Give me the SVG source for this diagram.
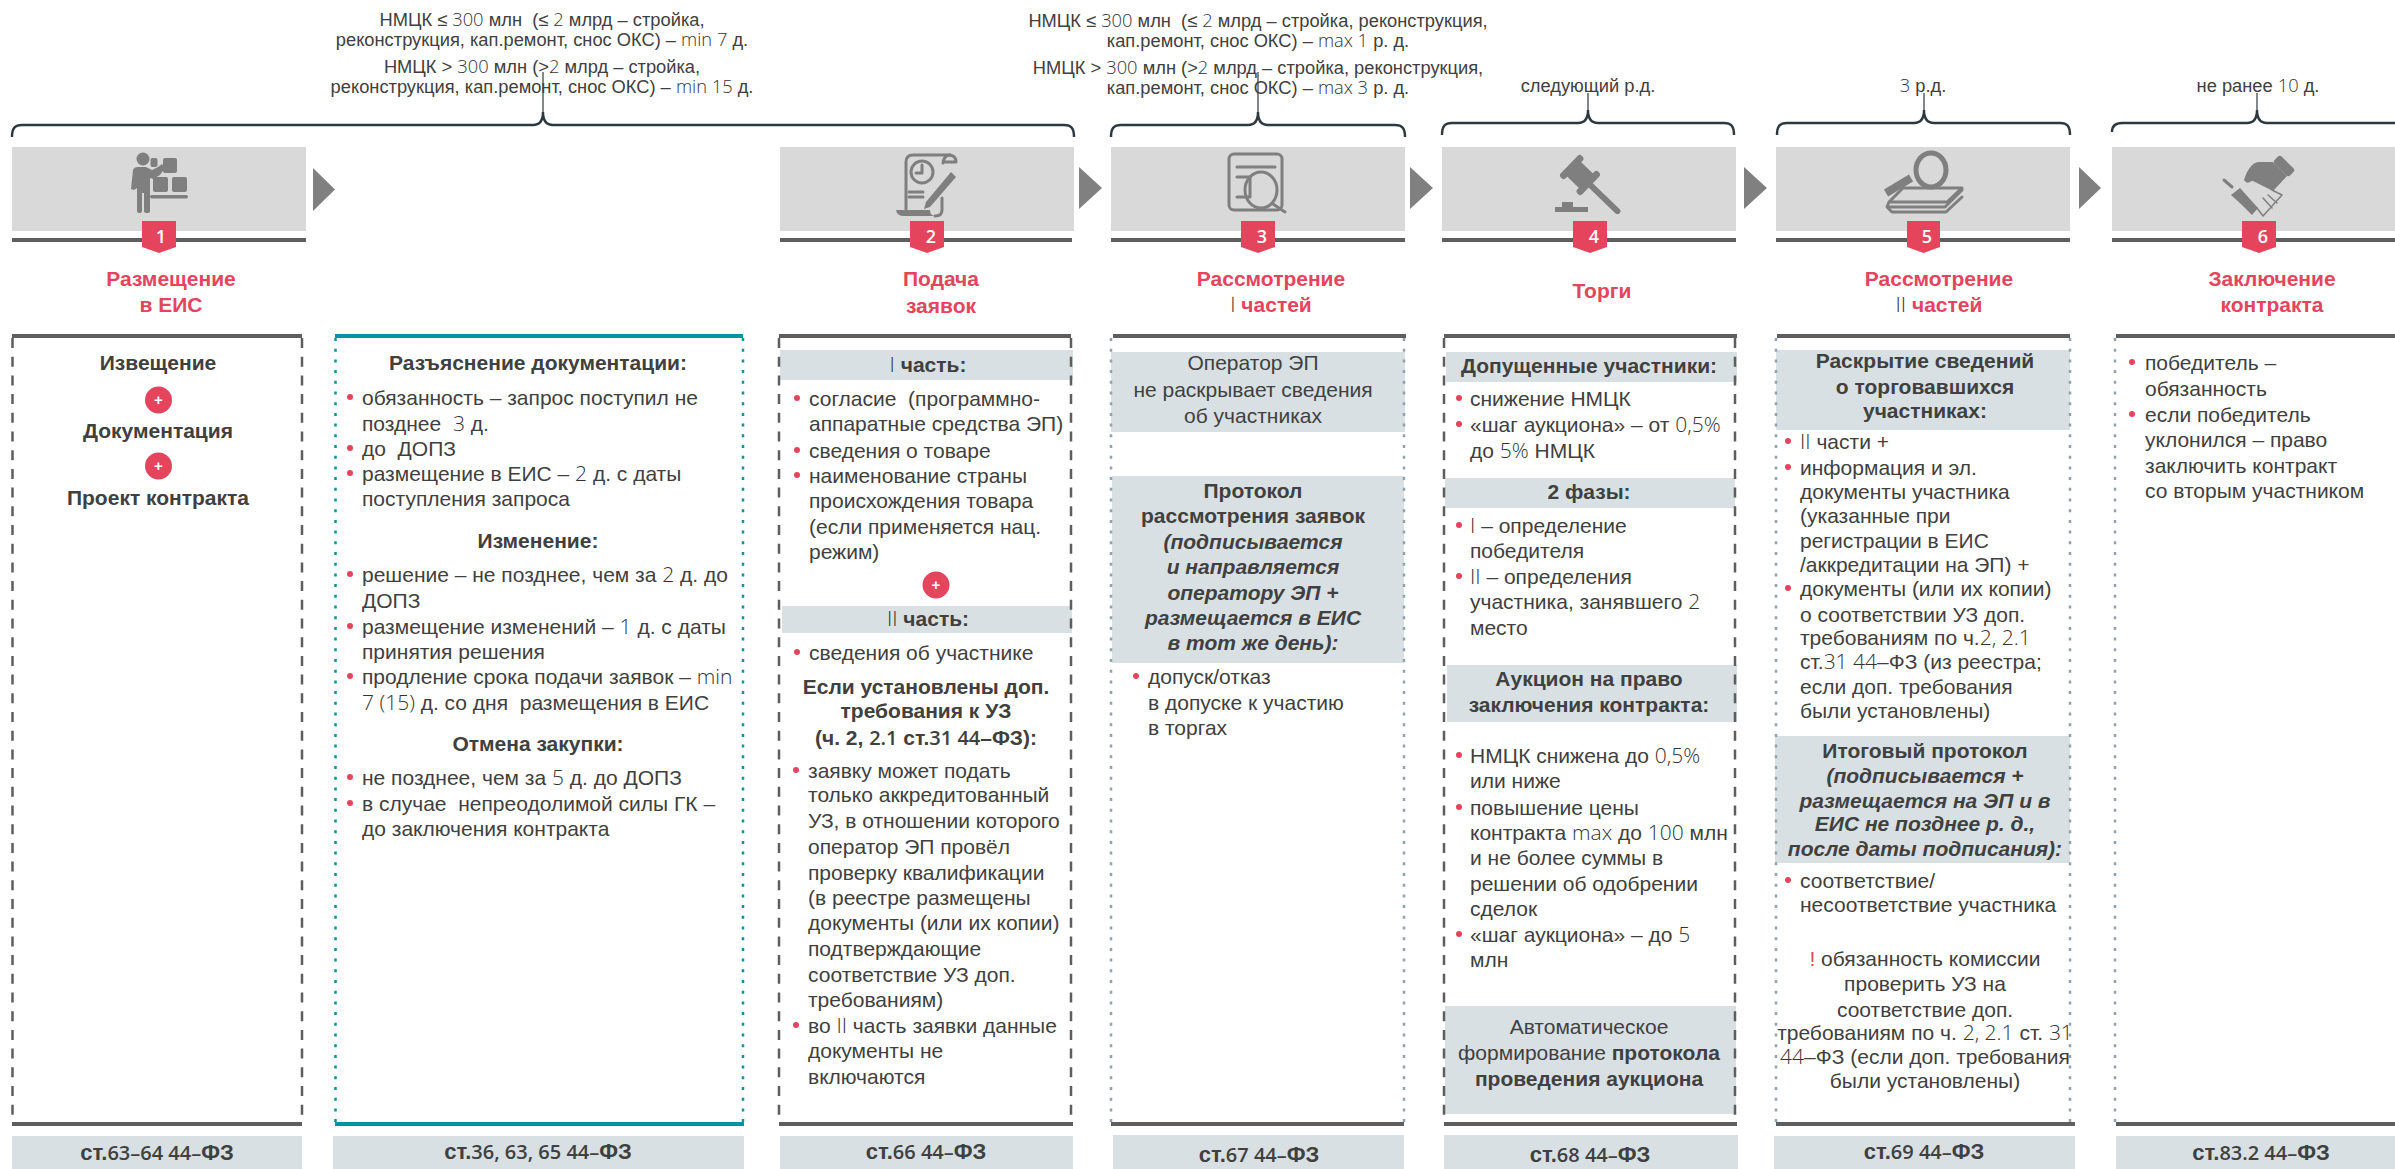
<svg xmlns="http://www.w3.org/2000/svg" width="2395" height="1169" viewBox="0 0 2395 1169">
<style>
text{font-family:"Liberation Sans",Arial,sans-serif;font-size:21px;fill:#404040;white-space:pre}
.c{text-anchor:middle}
.b{font-weight:700}
.bi{font-weight:700;font-style:italic}
.top{font-size:18.300px;text-anchor:middle}
.d{font-family:"Open Sans","Liberation Sans",sans-serif;font-weight:300;fill:#333}
.f{font-weight:700;font-size:22px;text-anchor:middle}
.m{font-family:"Open Sans","Liberation Sans",sans-serif;font-weight:600;font-size:20px}
.ttl{font-weight:700;fill:#e5455c;text-anchor:middle}
.num{font-family:"Open Sans","Liberation Sans",sans-serif;font-weight:600;font-size:18px;fill:#fff;text-anchor:middle}
.pl{font-weight:700;font-size:15px;fill:#fff;text-anchor:middle}
.r{fill:#e5455c}
.hd{fill:#d9d9d9}
.band{fill:#d8e0e3}
.rule{fill:#5e5e5e}
.rt{fill:#0095a1}
.badge{fill:#e5455c}
.bul{fill:#e5455c}
.plus{fill:#e5455c}
.arr{fill:#808080}
.br{fill:none;stroke:#2d393f;stroke-width:2.400}
.brt{fill:none;stroke:#2d393f;stroke-width:1.200}
.dash{stroke:#5e5e5e;stroke-width:2.500;stroke-dasharray:10 8.700;fill:none}
.dot{stroke:#8ea3b2;stroke-width:2.500;stroke-dasharray:3 7.700;fill:none}
.dott{stroke:#0095a1;stroke-width:2.500;stroke-dasharray:3 7.700;fill:none}
.ic{fill:#7f7f7f}
.is{fill:none;stroke:#7f7f7f;stroke-width:3;stroke-linecap:round;stroke-linejoin:round}
.it{fill:none;stroke:#7f7f7f;stroke-width:1.500;stroke-linecap:round;stroke-linejoin:round}
</style>

<g id="connectors">
<path class="br" d="M12 137C12 128 15 125 22 125H533C539 125 543 122 543 112C543 122 547 125 553 125H1064C1071 125 1074 128 1074 137"/>
<path class="brt" d="M543 112V72"/>
<path class="br" d="M1111 137C1111 128 1114 125 1121 125H1248C1254 125 1258 122 1258 112C1258 122 1262 125 1268 125H1395C1402 125 1405 128 1405 137"/>
<path class="brt" d="M1258 112V72"/>
<path class="br" d="M1442 135C1442 126 1445 123 1452 123H1578C1584 123 1588 120 1588 110C1588 120 1592 123 1598 123H1724C1731 123 1734 126 1734 135"/>
<path class="brt" d="M1588 110V93"/>
<path class="br" d="M1777 135C1777 126 1780 123 1787 123H1914C1920 123 1924 120 1924 110C1924 120 1928 123 1934 123H2060C2067 123 2070 126 2070 135"/>
<path class="brt" d="M1924 110V93"/>
<path class="br" d="M2112 132C2112 126 2115 123 2122 123H2247C2253 123 2257 120 2257 110C2257 120 2261 123 2267 123H2400"/>
<path class="brt" d="M2257 110V93"/>
<polygon class="arr" points="313,168 335,189.500 313,211"/>
<polygon class="arr" points="1079,167 1102,188 1079,209"/>
<polygon class="arr" points="1410,167 1433,188 1410,209"/>
<polygon class="arr" points="1744,167 1767,188 1744,209"/>
<polygon class="arr" points="2079,167 2101,188 2079,209"/>
</g>

<g id="labels-top">
<text class="top" x="542" y="26">НМЦК ≤ <tspan class="d">300</tspan> млн  (≤ <tspan class="d">2</tspan> млрд – стройка,</text>
<text class="top" x="542" y="46">реконструкция, кап.ремонт, снос ОКС) – <tspan class="d">min 7</tspan> д.</text>
<text class="top" x="542" y="73">НМЦК &gt; <tspan class="d">300</tspan> млн (&gt;<tspan class="d">2</tspan> млрд – стройка,</text>
<text class="top" x="542" y="93">реконструкция, кап.ремонт, снос ОКС) – <tspan class="d">min 15</tspan> д.</text>
<text class="top" x="1258" y="27">НМЦК ≤ <tspan class="d">300</tspan> млн  (≤ <tspan class="d">2</tspan> млрд – стройка, реконструкция,</text>
<text class="top" x="1258" y="47">кап.ремонт, снос ОКС) – <tspan class="d">max 1</tspan> р. д.</text>
<text class="top" x="1258" y="74">НМЦК &gt; <tspan class="d">300</tspan> млн (&gt;<tspan class="d">2</tspan> млрд – стройка, реконструкция,</text>
<text class="top" x="1258" y="94">кап.ремонт, снос ОКС) – <tspan class="d">max 3</tspan> р. д.</text>
<text class="top" x="1588" y="92">следующий р.д.</text>
<text class="top" x="1923" y="92"><tspan class="d">3</tspan> р.д.</text>
<text class="top" x="2258" y="92">не ранее <tspan class="d">10</tspan> д.</text>
</g>

<g id="step-1">
<rect class="hd" x="12" y="147" width="294" height="84"/>
<rect class="rule" x="12" y="238" width="294" height="4"/>
<circle class="ic" cx="143" cy="159" r="6.500"/>
<rect class="ic" x="150.500" y="158" width="7" height="9" rx="2"/>
<rect class="ic" x="163" y="158" width="14" height="15" rx="2"/>
<rect class="ic" x="153" y="177" width="15" height="15" rx="2"/>
<rect class="ic" x="172" y="177" width="15" height="15" rx="2"/>
<rect class="ic" x="150" y="195" width="38" height="3.500" rx="1.700"/>
<path class="ic" d="M133 170Q134 167 138 167H146L152 170L158 167L162 164L165 168L160 175L153 179L150 178V211Q150 213 147 213H146Q144 213 144 211V193H142V211Q142 213 139 213Q137 213 137 211V188L134 190L131 189Z"/>
<polygon class="badge" points="142,221 176,221 176,247 159,253 142,247"/>
<text class="num" x="161" y="243">1</text>
<text class="ttl" x="171" y="286">Размещение</text>
<text class="ttl" x="171" y="312">в ЕИС</text>
<rect class="rule" x="12" y="334" width="290" height="4"/>
<path class="dash" d="M12.500 338V1122M302 338V1122"/>
<rect class="rule" x="12" y="1122" width="290" height="4"/>
<text class="b c" x="158" y="370">Извещение</text>
<circle class="plus" cx="158.500" cy="400" r="13.500"/>
<text class="pl" x="158.500" y="405">+</text>
<text class="b c" x="158" y="438">Документация</text>
<circle class="plus" cx="158.500" cy="466" r="13.500"/>
<text class="pl" x="158.500" y="471">+</text>
<text class="b c" x="158" y="505">Проект контракта</text>
<rect class="band" x="12" y="1136" width="290" height="33"/>
<text class="f" x="157" y="1160">ст.<tspan class="m">63–64 44–</tspan>ФЗ</text>
</g>

<g id="step-1-note">
<rect class="rt" x="335" y="334" width="408" height="4"/>
<path class="dott" d="M335.500 338V1122M743 338V1122"/>
<rect class="rt" x="335" y="1122" width="409" height="4"/>
<text class="b c" x="538" y="370">Разъяснение документации:</text>
<circle class="bul" cx="350" cy="397" r="3"/><text x="362" y="405">обязанность – запрос поступил не</text>
<text x="362" y="431">позднее  <tspan class="d">3</tspan> д.</text>
<circle class="bul" cx="350" cy="448" r="3"/><text x="362" y="456">до  ДОПЗ</text>
<circle class="bul" cx="350" cy="473" r="3"/><text x="362" y="481">размещение в ЕИС – <tspan class="d">2</tspan> д. с даты</text>
<text x="362" y="506">поступления запроса</text>
<text class="b c" x="538" y="548">Изменение:</text>
<circle class="bul" cx="350" cy="574" r="3"/><text x="362" y="582">решение – не позднее, чем за <tspan class="d">2</tspan> д. до</text>
<text x="362" y="608">ДОПЗ</text>
<circle class="bul" cx="350" cy="626" r="3"/><text x="362" y="634">размещение изменений – <tspan class="d">1</tspan> д. с даты</text>
<text x="362" y="659">принятия решения</text>
<circle class="bul" cx="350" cy="676" r="3"/><text x="362" y="684">продление срока подачи заявок – <tspan class="d">min</tspan></text>
<text x="362" y="710"><tspan class="d">7 (15)</tspan> д. со дня  размещения в ЕИС</text>
<text class="b c" x="538" y="751">Отмена закупки:</text>
<circle class="bul" cx="350" cy="777" r="3"/><text x="362" y="785">не позднее, чем за <tspan class="d">5</tspan> д. до ДОПЗ</text>
<circle class="bul" cx="350" cy="803" r="3"/><text x="362" y="811">в случае  непреодолимой силы ГК –</text>
<text x="362" y="836">до заключения контракта</text>
<rect class="band" x="333" y="1136" width="411" height="33"/>
<text class="f" x="538" y="1159">ст.<tspan class="m">36, 63, 65 44–</tspan>ФЗ</text>
</g>

<g id="step-2">
<rect class="hd" x="780" y="147" width="294" height="84"/>
<rect class="rule" x="780" y="238" width="292" height="4"/>
<path class="is" d="M906 209V162Q906 155 913 155H950"/>
<path class="is" d="M950 155Q944 155 943 163M950 155Q956 156 956 162H944"/>
<circle class="is" cx="922" cy="172" r="11"/>
<path class="is" d="M922 165V173H916M909 192H923M909 197H923"/>
<path class="ic" d="M951 172L956 177L930 207L924 209L926 202Z"/>
<path class="is" d="M942 198V210Q942 216 935 216"/>
<path class="ic" d="M896 210H930Q930 216 936 216H904Q897 216 896 210Z"/>
<polygon class="badge" points="910,221 944,221 944,247 927,253 910,247"/>
<text class="num" x="931" y="243">2</text>
<text class="ttl" x="941" y="286">Подача</text>
<text class="ttl" x="941" y="313">заявок</text>
<rect class="band" x="780" y="350" width="293" height="30"/>
<rect class="band" x="782" y="606" width="290" height="27"/>
<rect class="rule" x="779" y="334" width="292" height="4"/>
<path class="dash" d="M779 338V1122M1071 338V1122"/>
<rect class="rule" x="779" y="1122" width="294" height="4"/>
<text class="c" x="928" y="372"><tspan class="d">I</tspan> <tspan class="b">часть:</tspan></text>
<circle class="bul" cx="797" cy="398" r="3"/><text x="809" y="406">согласие  (программно-</text>
<text x="809" y="431">аппаратные средства ЭП)</text>
<circle class="bul" cx="797" cy="450" r="3"/><text x="809" y="458">сведения о товаре</text>
<circle class="bul" cx="797" cy="475" r="3"/><text x="809" y="483">наименование страны</text>
<text x="809" y="508">происхождения товара</text>
<text x="809" y="534">(если применяется нац.</text>
<text x="809" y="559">режим)</text>
<circle class="plus" cx="936" cy="585" r="13.500"/>
<text class="pl" x="936" y="590">+</text>
<text class="c" x="928" y="626"><tspan class="d">II</tspan> <tspan class="b">часть:</tspan></text>
<circle class="bul" cx="797" cy="652" r="3"/><text x="809" y="660">сведения об участнике</text>
<text class="b c" x="926" y="694">Если установлены доп.</text>
<text class="b c" x="926" y="718">требования к УЗ</text>
<text class="b c" x="926" y="745">(ч. 2, <tspan class="m">2.1</tspan> ст.<tspan class="m">31 44</tspan>–ФЗ):</text>
<circle class="bul" cx="796" cy="770" r="3"/><text x="808" y="778">заявку может подать</text>
<text x="808" y="802">только аккредитованный</text>
<text x="808" y="828">УЗ, в отношении которого</text>
<text x="808" y="854">оператор ЭП провёл</text>
<text x="808" y="880">проверку квалификации</text>
<text x="808" y="905">(в реестре размещены</text>
<text x="808" y="930">документы (или их копии)</text>
<text x="808" y="956">подтверждающие</text>
<text x="808" y="982">соответствие УЗ доп.</text>
<text x="808" y="1007">требованиям)</text>
<circle class="bul" cx="796" cy="1025" r="3"/><text x="808" y="1033">во <tspan class="d">II</tspan> часть заявки данные</text>
<text x="808" y="1058">документы не</text>
<text x="808" y="1084">включаются</text>
<rect class="band" x="780" y="1136" width="293" height="33"/>
<text class="f" x="926" y="1159">ст.<tspan class="m">66 44–</tspan>ФЗ</text>
</g>

<g id="step-3">
<rect class="hd" x="1111" y="147" width="294" height="84"/>
<rect class="rule" x="1111" y="238" width="294" height="4"/>
<rect class="is" x="1229" y="154" width="53" height="56" rx="5"/>
<path class="is" d="M1237 167H1275M1237 177H1250V197H1237"/>
<ellipse class="is" cx="1261" cy="190" rx="16" ry="18"/>
<path class="is" d="M1273 204L1285 212"/>
<polygon class="badge" points="1241,221 1275,221 1275,247 1258,253 1241,247"/>
<text class="num" x="1262" y="243">3</text>
<text class="ttl" x="1271" y="286">Рассмотрение</text>
<text class="ttl" x="1271" y="312"><tspan class="d">I</tspan> частей</text>
<rect class="band" x="1111" y="352" width="294" height="80"/>
<rect class="band" x="1112" y="476" width="292" height="187"/>
<rect class="rule" x="1113" y="334" width="293" height="4"/>
<path class="dot" d="M1111 338V1122M1404 338V1122"/>
<rect class="rule" x="1111" y="1122" width="293" height="4"/>
<text class="c" x="1253" y="370">Оператор ЭП</text>
<text class="c" x="1253" y="397">не раскрывает сведения</text>
<text class="c" x="1253" y="423">об участниках</text>
<text class="b c" x="1253" y="498">Протокол</text>
<text class="b c" x="1253" y="523">рассмотрения заявок</text>
<text class="bi c" x="1253" y="549">(подписывается</text>
<text class="bi c" x="1253" y="574">и направляется</text>
<text class="bi c" x="1253" y="600">оператору ЭП +</text>
<text class="bi c" x="1253" y="625">размещается в ЕИС</text>
<text class="bi c" x="1253" y="650">в тот же день):</text>
<circle class="bul" cx="1136" cy="676" r="3"/><text x="1148" y="684">допуск/отказ</text>
<text x="1148" y="710">в допуске к участию</text>
<text x="1148" y="735">в торгах</text>
<rect class="band" x="1113" y="1135" width="291" height="34"/>
<text class="f" x="1259" y="1162">ст.<tspan class="m">67 44–</tspan>ФЗ</text>
</g>

<g id="step-4">
<rect class="hd" x="1442" y="147" width="294" height="84"/>
<rect class="rule" x="1442" y="238" width="294" height="4"/>
<path class="ic" d="M1555 207H1562V202H1573V207H1588V212H1555Z"/>
<g transform="rotate(44 1580 175)"><rect class="ic" x="1571" y="165" width="18" height="20"/><rect class="ic" x="1588" y="160" width="7" height="30" rx="3"/><rect class="ic" x="1565" y="160" width="7" height="30" rx="3"/><rect class="ic" x="1589" y="172" width="46" height="6" rx="3"/></g>
<polygon class="badge" points="1573,221 1607,221 1607,247 1590,253 1573,247"/>
<text class="num" x="1594" y="243">4</text>
<text class="ttl" x="1602" y="298">Торги</text>
<rect class="band" x="1446" y="352" width="291" height="30"/>
<rect class="band" x="1445" y="478" width="290" height="30"/>
<rect class="band" x="1447" y="665" width="290" height="57"/>
<rect class="band" x="1445" y="1006" width="291" height="108"/>
<rect class="rule" x="1444" y="334" width="293" height="4"/>
<path class="dash" d="M1444 338V1122M1735 338V1122"/>
<rect class="rule" x="1444" y="1122" width="293" height="4"/>
<text class="b c" x="1589" y="373">Допущенные участники:</text>
<circle class="bul" cx="1459" cy="398" r="3"/><text x="1470" y="406">снижение НМЦК</text>
<circle class="bul" cx="1459" cy="424" r="3"/><text x="1470" y="432">«шаг аукциона» – от <tspan class="d">0,5%</tspan></text>
<text x="1470" y="458">до <tspan class="d">5%</tspan> НМЦК</text>
<text class="b c" x="1589" y="499">2 фазы:</text>
<circle class="bul" cx="1459" cy="525" r="3"/><text x="1470" y="533"><tspan class="d">I</tspan> – определение</text>
<text x="1470" y="558">победителя</text>
<circle class="bul" cx="1459" cy="576" r="3"/><text x="1470" y="584"><tspan class="d">II</tspan> – определения</text>
<text x="1470" y="609">участника, занявшего <tspan class="d">2</tspan></text>
<text x="1470" y="635">место</text>
<text class="b c" x="1589" y="686">Аукцион на право</text>
<text class="b c" x="1589" y="712">заключения контракта:</text>
<circle class="bul" cx="1459" cy="755" r="3"/><text x="1470" y="763">НМЦК снижена до <tspan class="d">0,5%</tspan></text>
<text x="1470" y="788">или ниже</text>
<circle class="bul" cx="1459" cy="807" r="3"/><text x="1470" y="815">повышение цены</text>
<text x="1470" y="840">контракта <tspan class="d">max</tspan> до <tspan class="d">100</tspan> млн</text>
<text x="1470" y="865">и не более суммы в</text>
<text x="1470" y="891">решении об одобрении</text>
<text x="1470" y="916">сделок</text>
<circle class="bul" cx="1459" cy="934" r="3"/><text x="1470" y="942">«шаг аукциона» – до <tspan class="d">5</tspan></text>
<text x="1470" y="967">млн</text>
<text class="c" x="1589" y="1034">Автоматическое</text>
<text class="c" x="1589" y="1060">формирование <tspan class="b">протокола</tspan></text>
<text class="b c" x="1589" y="1086">проведения аукциона</text>
<rect class="band" x="1444" y="1135" width="294" height="34"/>
<text class="f" x="1590" y="1162">ст.<tspan class="m">68 44–</tspan>ФЗ</text>
</g>

<g id="step-5">
<rect class="hd" x="1776" y="147" width="294" height="84"/>
<rect class="rule" x="1776" y="238" width="294" height="4"/>
<ellipse cx="1931" cy="170" rx="15" ry="17" fill="none" stroke="#7f7f7f" stroke-width="5"/>
<path d="M1886 193L1911 178" stroke="#7f7f7f" stroke-width="8" fill="none"/>
<path class="is" d="M1903 188H1962L1947 202H1889ZM1889 202L1887 207L1892 212H1946L1962 197"/>
<path class="is" d="M1889 207H1945L1962 190"/>
<polygon class="badge" points="1907,221 1940,221 1940,247 1923.500,253 1907,247"/>
<text class="num" x="1927" y="243">5</text>
<text class="ttl" x="1939" y="286">Рассмотрение</text>
<text class="ttl" x="1939" y="312"><tspan class="d">II</tspan> частей</text>
<rect class="band" x="1776" y="350" width="294" height="80"/>
<rect class="band" x="1775" y="736" width="295" height="127"/>
<rect class="rule" x="1777" y="334" width="293" height="4"/>
<path class="dot" d="M1776 338V1122M2070 338V1122"/>
<rect class="rule" x="1776" y="1122" width="299" height="4"/>
<text class="b c" x="1925" y="368">Раскрытие сведений</text>
<text class="b c" x="1925" y="394">о торговавшихся</text>
<text class="b c" x="1925" y="418">участниках:</text>
<circle class="bul" cx="1788" cy="441" r="3"/><text x="1800" y="449"><tspan class="d">II</tspan> части +</text>
<circle class="bul" cx="1788" cy="467" r="3"/><text x="1800" y="475">информация и эл.</text>
<text x="1800" y="499">документы участника</text>
<text x="1800" y="523">(указанные при</text>
<text x="1800" y="548">регистрации в ЕИС</text>
<text x="1800" y="572">/аккредитации на ЭП) +</text>
<circle class="bul" cx="1788" cy="588" r="3"/><text x="1800" y="596">документы (или их копии)</text>
<text x="1800" y="622">о соответствии УЗ доп.</text>
<text x="1800" y="645">требованиям по ч.<tspan class="d">2, 2.1</tspan></text>
<text x="1800" y="669">ст.<tspan class="d">31 44</tspan>–ФЗ (из реестра;</text>
<text x="1800" y="694">если доп. требования</text>
<text x="1800" y="718">были установлены)</text>
<text class="b c" x="1925" y="758">Итоговый протокол</text>
<text class="bi c" x="1925" y="783">(подписывается +</text>
<text class="bi c" x="1925" y="808">размещается на ЭП и в</text>
<text class="bi c" x="1925" y="831">ЕИС не позднее р. д.,</text>
<text class="bi c" x="1925" y="856">после даты подписания):</text>
<circle class="bul" cx="1788" cy="880" r="3"/><text x="1800" y="888">соответствие/</text>
<text x="1800" y="912">несоответствие участника</text>
<text class="c" x="1925" y="966"><tspan class="r">!</tspan> обязанность комиссии</text>
<text class="c" x="1925" y="991">проверить УЗ на</text>
<text class="c" x="1925" y="1017">соответствие доп.</text>
<text class="c" x="1925" y="1040">требованиям по ч. <tspan class="d">2, 2.1</tspan> ст. <tspan class="d">31</tspan></text>
<text class="c" x="1925" y="1064"><tspan class="d">44</tspan>–ФЗ (если доп. требования</text>
<text class="c" x="1925" y="1088">были установлены)</text>
<rect class="band" x="1774" y="1136" width="301" height="33"/>
<text class="f" x="1924" y="1159">ст.<tspan class="m">69 44–</tspan>ФЗ</text>
</g>

<g id="step-6">
<rect class="hd" x="2112" y="147" width="283" height="84"/>
<rect class="rule" x="2112" y="238" width="283" height="4"/>
<g transform="rotate(45 2284 166)"><rect class="ic" x="2273" y="161" width="22" height="10" rx="3"/></g>
<path class="ic" d="M2244 180C2247 170 2252 163 2258 162L2273 162L2287 176L2273 191L2253 181C2250 180 2248 186 2244 180Z"/>
<path class="ic" d="M2231 195L2240 188L2258 208L2252 215L2242 205Z"/>
<path class="is" d="M2224 180L2232 187"/>
<path class="it" d="M2257 208L2263 216L2282 195L2272 190M2263 198L2272 208M2268 195L2277 203"/>
<polygon class="badge" points="2242,221 2276,221 2276,247 2259,253 2242,247"/>
<text class="num" x="2263" y="243">6</text>
<text class="ttl" x="2272" y="286">Заключение</text>
<text class="ttl" x="2272" y="312">контракта</text>
<rect class="rule" x="2116" y="334" width="279" height="4"/>
<path class="dot" d="M2115 338V1122"/>
<rect class="rule" x="2116" y="1122" width="279" height="4"/>
<circle class="bul" cx="2132" cy="362" r="3"/><text x="2145" y="370">победитель –</text>
<text x="2145" y="396">обязанность</text>
<circle class="bul" cx="2132" cy="414" r="3"/><text x="2145" y="422">если победитель</text>
<text x="2145" y="447">уклонился – право</text>
<text x="2145" y="473">заключить контракт</text>
<text x="2145" y="498">со вторым участником</text>
<rect class="band" x="2116" y="1136" width="279" height="33"/>
<text class="f" x="2261" y="1160">ст.<tspan class="m">83.2 44–</tspan>ФЗ</text>
</g>
</svg>
